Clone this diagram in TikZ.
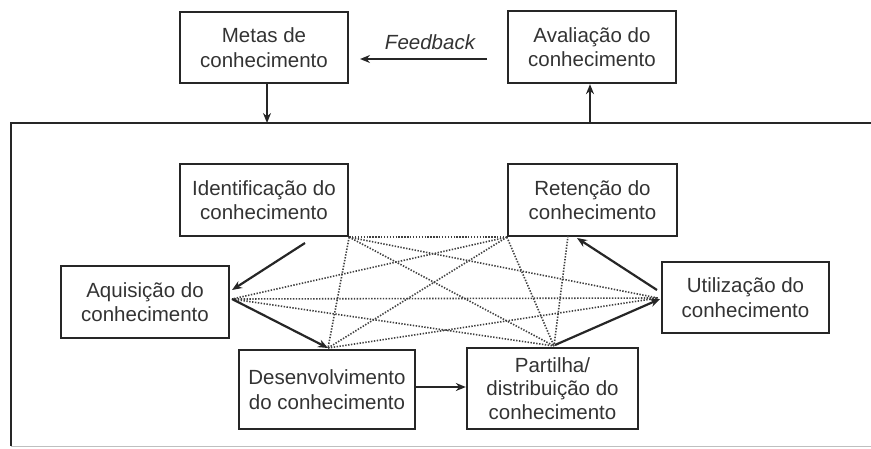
\documentclass[tikz,border=0pt]{standalone}
\usepackage{fontspec}
\setmainfont{Liberation Sans}
\usetikzlibrary{arrows.meta}
\begin{document}
\begin{tikzpicture}[x=1pt,y=-1pt,
  box/.style={draw=black!85,line width=2.3pt,align=center,inner sep=0pt,
    font=\fontsize{20.5}{24.5}\selectfont,text=black!80},
  arr/.style={line width=2.2pt,draw=black!85,-{Stealth[length=10pt,width=8pt]}},
  dots/.style={draw=black!75,line width=1.6pt,dash pattern=on 1.4pt off 1.5pt}]
\useasboundingbox (0,0) rectangle (871,448);
% outer frame
\draw[line width=2pt,draw=black!85] (11,446) -- (11,123) -- (872,123);
\draw[line width=1pt,draw=black!25] (11,446.5) -- (872,446.5);
% top boxes
\node[box,minimum width=168pt,minimum height=71pt] (metas) at (264,47.5) {Metas de\\conhecimento};
\node[box,minimum width=168pt,minimum height=72pt] (aval) at (592,47) {Avaliação do\\conhecimento};
\coordinate (fb1) at (487,59);
\coordinate (fb2) at (360,59);
\draw[arr] (fb1) -- (fb2);
\node[font=\fontsize{20.5}{24.5}\selectfont\itshape,text=black!80] (fbl) at (430,42) {Feedback};
\coordinate (m1) at (267,123);
\coordinate (a1) at (590,123);
\draw[arr] (m1 |- metas.south) -- (m1);
\draw[arr] (a1) -- (a1 |- aval.south);
% inner boxes
\node[box,minimum width=168pt,minimum height=72pt] (ident) at (264,200) {Identificação do\\conhecimento};
\node[box,minimum width=169pt,minimum height=72pt] (reten) at (592.5,200) {Retenção do\\conhecimento};
\node[box,minimum width=168pt,minimum height=72pt] (aquis) at (145,302) {Aquisição do\\conhecimento};
\node[box,minimum width=167pt,minimum height=71pt] (util) at (745.5,297.5) {Utilização do\\conhecimento};
\node[box,minimum width=176pt,minimum height=79pt] (desen) at (327,389.5) {Desenvolvimento\\do conhecimento};
\node[box,minimum width=171pt,minimum height=81pt,font=\fontsize{20.5}{23.5}\selectfont] (part) at (552.5,388.5) {Partilha/\\distribuição do\\conhecimento};
% connection points
\coordinate (I) at (ident.south east);
\coordinate (R) at (reten.south west);
\coordinate (R2) at (568,236);
\coordinate (A) at (232,299);
\coordinate (D) at (328,348);
\coordinate (P) at (554,346);
\coordinate (U) at (658,298);
% dotted lines
\draw[dots] (I) -- (R);
\draw[dots] (I) -- (U);
\draw[dots] (I) -- (P);
\draw[dots] (I) -- (D);
\draw[dots] (R) -- (A);
\draw[dots] (R) -- (D);
\draw[dots] (R) -- (P);
\draw[dots] (R2) -- (P);
\draw[dots] (A) -- (U);
\draw[dots] (A) -- (P);
\draw[dots] (D) -- (U);
% solid arrows
\coordinate (ia1) at (305,243);
\coordinate (ia2) at (232,290);
\draw[arr] (ia1) -- (ia2);
\draw[arr] (A) -- (D);
\draw[arr] (desen.east |- 0,387) -- (part.west |- 0,387);
\coordinate (pu1) at (555,345);
\coordinate (pu2) at (660,299);
\draw[arr] (pu1) -- (pu2);
\coordinate (ur1) at (657,290);
\coordinate (ur2) at (577,238);
\draw[arr] (ur1) -- (ur2);
\end{tikzpicture}
\end{document}
